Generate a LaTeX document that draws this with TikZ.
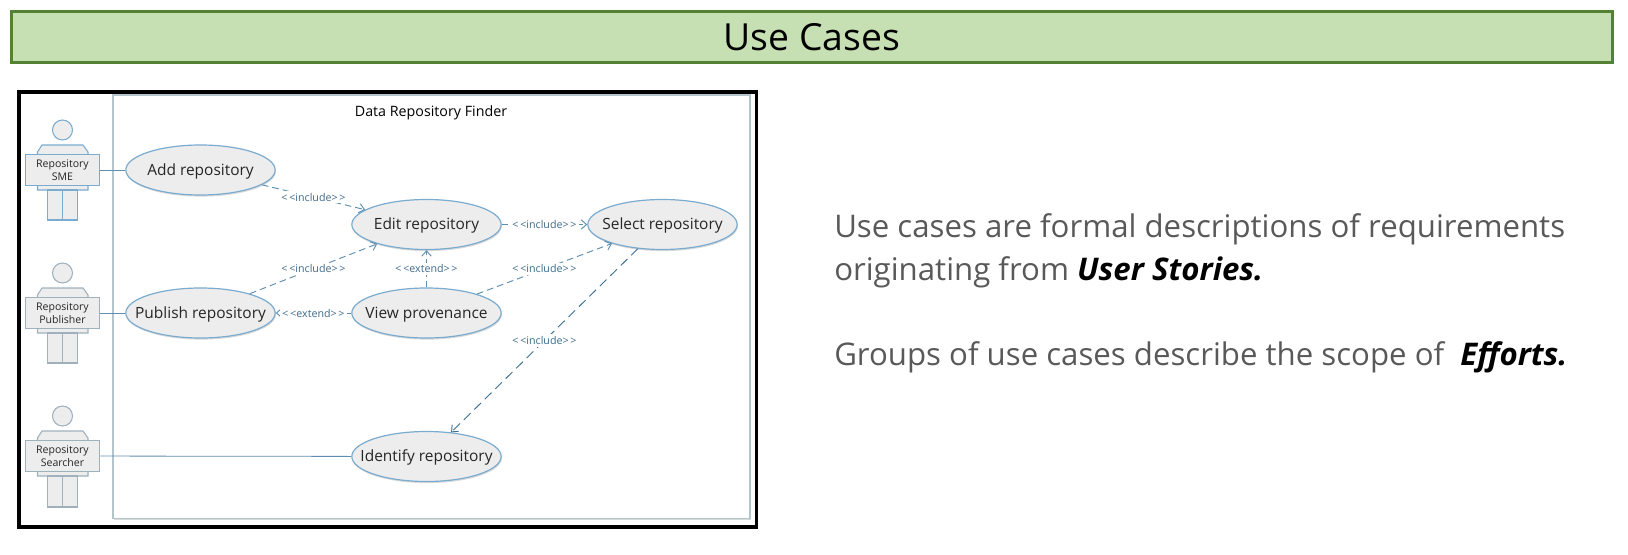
\documentclass[tikz,border=0pt]{standalone}
\usepackage{xcolor}
\usepackage{fontspec}
\setmainfont{Open Sans}
\usetikzlibrary{shapes.geometric,shadows,arrows.meta}
\definecolor{barfill}{HTML}{C6E0B4}
\definecolor{barline}{HTML}{548235}
\definecolor{bodygray}{HTML}{595959}
\definecolor{usefill}{HTML}{EDEDED}
\definecolor{useline}{HTML}{7BACCF}
\definecolor{greyline}{HTML}{9FB1BD}
\definecolor{sysline}{HTML}{B4C4CC}
\definecolor{linkline}{HTML}{5F8FB0}
\definecolor{linkdark}{HTML}{3F7093}
\definecolor{linktext}{HTML}{3F6A8A}
\tikzset{
  softshadow/.style={drop shadow={shadow xshift=0.5pt,shadow yshift=-1.2pt,opacity=0.15,fill=black}},
  titlebar/.style={draw=barline,line width=2.25pt,fill=barfill,minimum width=1201pt,minimum height=38pt,inner sep=0pt,font=\fontsize{28}{32}\selectfont},
  framebox/.style={draw=black,line width=2.7pt},
  sysbox/.style={draw=sysline,line width=0.9pt,fill=white},
  usecase/.style={ellipse,draw=useline,line width=0.9pt,fill=usefill,minimum width=112pt,minimum height=37.5pt,inner xsep=-25pt,inner ysep=-8pt,text height=9pt,text depth=1.5pt,softshadow,font=\fontsize{11.6}{14}\selectfont,text=black!85},
  actorbox/.style={rectangle,draw=#1,line width=0.8pt,fill=usefill,minimum width=56pt,minimum height=23.5pt,inner sep=0pt,align=center,font=\fontsize{7.9}{9.8}\selectfont,text=black!85},
  actorhead/.style={circle,draw=#1,line width=0.8pt,fill=usefill,minimum size=15pt,inner sep=0pt},
  actorpart/.style={draw=#1,line width=0.8pt,fill=usefill},
  actorlink/.style={draw=linkline,line width=0.6pt},
  umllink/.style={draw=linkline,line width=0.7pt,dash pattern=on 5pt off 3pt,-{Straight Barb[length=4pt,width=7pt]}},
  umllabel/.style={fill=white,inner sep=1.5pt,text=linktext,font=\fontsize{8}{10}\selectfont},
  bodytext/.style={anchor=base west,inner sep=0pt,text=bodygray,font=\fontsize{23.4}{28}\selectfont}
}
\newcommand{\stressed}[1]{\textcolor{black}{\textbf{\textit{#1}}}}
\begin{document}
\begin{tikzpicture}[x=0.75pt,y=-0.75pt]
  \useasboundingbox (0,0) rectangle (1628,554);
  \node[titlebar] (usecases) at (812,36.75) {Use Cases};
  \draw[framebox] (19,92) rectangle (756.5,527);
  \draw[sysbox,softshadow] (113,95) rectangle (750,518.5);
  \node (finder) at (431,112.5) {\fontsize{10.7}{13}\selectfont Data Repository Finder};

  \node[actorhead=useline] (smehead) at (62.5,130) {};
  \draw[actorpart=useline] (37.5,190)--(37.5,152)--(42,145)--(83,145)--(88,152)--(88,190)--cycle;
  \draw[actorpart=useline] (47.5,190) rectangle (77.5,220);
  \draw[draw=useline,line width=0.8pt] (62.5,190)--(62.5,220);
  \node[actorbox=useline] (smebox) at (62.5,170) {Repository\\SME};

  \node[actorhead=greyline] (pubhead) at (62.5,273) {};
  \draw[actorpart=greyline] (37.5,333)--(37.5,295)--(42,288)--(83,288)--(88,295)--(88,333)--cycle;
  \draw[actorpart=greyline] (47.5,333) rectangle (77.5,363);
  \draw[draw=greyline,line width=0.8pt] (62.5,333)--(62.5,363);
  \node[actorbox=greyline] (pubbox) at (62.5,313) {Repository\\Publisher};

  \node[actorhead=greyline] (searchhead) at (62.5,416) {};
  \draw[actorpart=greyline] (37.5,476)--(37.5,438)--(42,431)--(83,431)--(88,438)--(88,476)--cycle;
  \draw[actorpart=greyline] (47.5,476) rectangle (77.5,507);
  \draw[draw=greyline,line width=0.8pt] (62.5,476)--(62.5,507);
  \node[actorbox=greyline] (searchbox) at (62.5,456) {Repository\\Searcher};

  \node[usecase] (addrepo) at (200.5,170) {Add repository};
  \node[usecase] (publishrepo) at (200.5,313) {Publish repository};
  \node[usecase] (editrepo) at (426.5,224.5) {Edit repository};
  \node[usecase] (viewprov) at (426.5,313) {View provenance};
  \node[usecase] (selectrepo) at (662.5,224.5) {Select repository};
  \node[usecase] (identrepo) at (426.5,456.5) {Identify repository};

  \draw[actorlink] (smebox)--(addrepo);
  \draw[actorlink] (pubbox)--(publishrepo);
  \draw[actorlink] (searchbox)--(identrepo);

  \draw[umllink] (addrepo)--node[umllabel] {<\,<include>\,>} (editrepo);
  \draw[umllink] (publishrepo)--node[umllabel] {<\,<include>\,>} (editrepo);
  \draw[umllink] (viewprov)--node[umllabel] {<\,<extend>\,>} (publishrepo);
  \draw[umllink] (viewprov)--node[umllabel] {<\,<extend>\,>} (editrepo);
  \draw[umllink] (editrepo)--node[umllabel] {<\,<include>\,>} (selectrepo);
  \draw[umllink] (viewprov)--node[umllabel] {<\,<include>\,>} (selectrepo);
  \draw[umllink,draw=linkdark,dash pattern=on 7pt off 4pt] (selectrepo)--node[umllabel] {<\,<include>\,>} (identrepo);

  \node[bodytext] (lineone) at (834,237) {Use cases are formal descriptions of requirements};
  \node[bodytext] (linetwo) at (834,280) {originating from \stressed{User Stories.}};
  \node[bodytext] (linethree) at (834,365) {Groups of use cases describe the scope of\ \ \stressed{Efforts.}};
\end{tikzpicture}
\end{document}
